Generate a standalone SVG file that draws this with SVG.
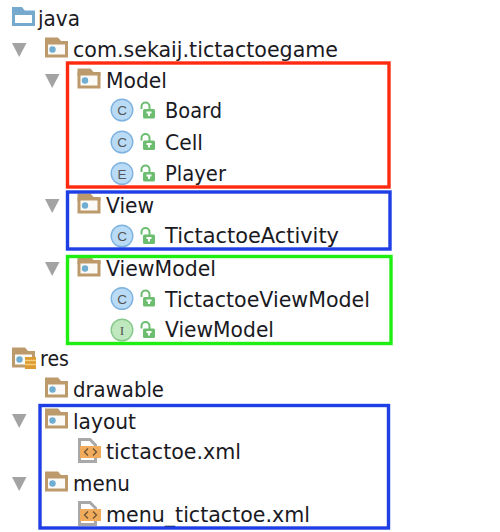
<svg xmlns="http://www.w3.org/2000/svg" width="500" height="532" viewBox="0 0 500 532">
<style>
text{font-family:"DejaVu Sans","Open Sans",sans-serif;font-size:20.6px;fill:#1a1a1f}
.box{fill:none;stroke-width:3.4}
.tri{fill:#a3a3a3}
.c{stroke:#7fb3df;stroke-width:1.4;fill:#b9dbf5}
.g{stroke:#86c98a;stroke-width:1.4;fill:#bfe8bf}
.l{font-size:13.500px;fill:#555;text-anchor:middle;font-family:"Liberation Sans",sans-serif}
.f{fill:#fbfaf6;stroke:#bd9a6c;stroke-width:3}
.ft{fill:#bd9a6c}
.d{fill:#6fadd3}
.file{fill:#fff;stroke:#a8a8a8;stroke-width:3}
.x{fill:#f0ac5c}
.xs{fill:none;stroke:#6b5334;stroke-width:1.300}
.k{fill:#6cbd70}
.ks{fill:none;stroke:#6cbd70;stroke-width:2}
</style>
<defs>
<g id="folder"><path class="ft" d="M0 -12.500H13L16 -9H23V-5H0Z"/><rect class="f" x="1.500" y="-7" width="20" height="13"/><circle class="d" cx="7.500" cy="-0.500" r="3.200"/></g>
<g id="lock"><path class="ks" d="M-1.500 -1V-3.500A4 4 0 0 1 6.500 -3.500V0"/><rect class="k" x="0" y="-1" width="12" height="9.500" rx="1.500"/><rect x="5" y="2" width="2" height="4" fill="#fff"/><rect x="3.500" y="1.500" width="5" height="2" fill="#fff"/></g>
<g id="xml"><path class="file" d="M0.500 -12.500H11L16.500 -7V9.500H0.500Z"/><rect class="x" x="1" y="-6" width="21" height="12"/><path class="xs" d="M9 -3.500L5.500 0L9 3.500M14 -3.500L17.500 0L14 3.500"/></g>
<path id="t" class="tri" d="M0 0H14.500L7.200 14Z"/>
</defs>
<g id="connectors"></g>
<g id="java"><path d="M13.500 12H33.500V24.500H13.500Z" fill="#fff" stroke="#75a9cd" stroke-width="3"/><path d="M12 7H22L25 11H35V15H12Z" fill="#75a9cd"/><text x="38" y="26" textLength="42" lengthAdjust="spacingAndGlyphs">java</text></g>
<g id="pkg"><use href="#t" x="12" y="43"/><use href="#folder" x="45" y="50"/><text x="73" y="57" textLength="265" lengthAdjust="spacingAndGlyphs">com.sekaij.tictactoegame</text></g>
<g id="model"><use href="#t" x="45" y="74"/><use href="#folder" x="77.500" y="81"/><text x="106" y="88" textLength="61" lengthAdjust="spacingAndGlyphs">Model</text></g>
<g id="board"><circle class="c" cx="122" cy="110" r="10.800"/><text class="l" x="122" y="115">C</text><use href="#lock" x="143" y="110"/><text x="165" y="118" textLength="57" lengthAdjust="spacingAndGlyphs">Board</text></g>
<g id="cell"><circle class="c" cx="122" cy="142" r="10.800"/><text class="l" x="122" y="147">C</text><use href="#lock" x="143" y="141.500"/><text x="165" y="150" textLength="38" lengthAdjust="spacingAndGlyphs">Cell</text></g>
<g id="player"><circle class="c" cx="122" cy="173.500" r="10.800"/><text class="l" x="122" y="178.500">E</text><use href="#lock" x="143" y="173"/><text x="165" y="181" textLength="61" lengthAdjust="spacingAndGlyphs">Player</text></g>
<g id="view"><use href="#t" x="45" y="199"/><use href="#folder" x="77.500" y="206"/><text x="106" y="213" textLength="48" lengthAdjust="spacingAndGlyphs">View</text></g>
<g id="activity"><circle class="c" cx="122" cy="236" r="10.800"/><text class="l" x="122" y="241">C</text><use href="#lock" x="143" y="235.500"/><text x="165" y="243" textLength="174" lengthAdjust="spacingAndGlyphs">TictactoeActivity</text></g>
<g id="viewmodel"><use href="#t" x="45" y="262"/><use href="#folder" x="77.500" y="269"/><text x="106" y="275.500" textLength="110" lengthAdjust="spacingAndGlyphs">ViewModel</text></g>
<g id="tvm"><circle class="c" cx="122" cy="298.500" r="10.800"/><text class="l" x="122" y="303.500">C</text><use href="#lock" x="143" y="298"/><text x="165" y="306.500" textLength="205" lengthAdjust="spacingAndGlyphs">TictactoeViewModel</text></g>
<g id="vmi"><circle class="g" cx="122" cy="330" r="10.800"/><text class="l" x="122" y="335" style="font-family:'Liberation Serif',serif">I</text><use href="#lock" x="143" y="329.500"/><text x="165" y="337" textLength="109" lengthAdjust="spacingAndGlyphs">ViewModel</text></g>
<g id="res"><use href="#folder" x="12" y="360"/><rect x="25" y="357" width="11" height="12" fill="#dd9a30"/><path d="M25 360.500H36M25 364.500H36" stroke="#f4cf7a" stroke-width="1.500"/><text x="40" y="366" textLength="29" lengthAdjust="spacingAndGlyphs">res</text></g>
<g id="drawable"><use href="#folder" x="45" y="390"/><text x="73" y="397" textLength="91" lengthAdjust="spacingAndGlyphs">drawable</text></g>
<g id="layout"><use href="#t" x="12" y="414"/><use href="#folder" x="45" y="421"/><text x="73" y="428.500" textLength="63" lengthAdjust="spacingAndGlyphs">layout</text></g>
<g id="tictactoe"><use href="#xml" x="79" y="452"/><text x="106" y="459" textLength="135" lengthAdjust="spacingAndGlyphs">tictactoe.xml</text></g>
<g id="menu"><use href="#t" x="12" y="477"/><use href="#folder" x="45" y="484"/><text x="73" y="491" textLength="57" lengthAdjust="spacingAndGlyphs">menu</text></g>
<g id="menufile"><use href="#xml" x="79" y="515"/><text x="106" y="521.500" textLength="204" lengthAdjust="spacingAndGlyphs">menu_tictactoe.xml</text></g>
<g id="highlights">
<rect class="box" x="67.500" y="63" width="321.500" height="124" stroke="#ff2a10"/>
<rect class="box" x="67.500" y="192" width="322.500" height="57" stroke="#1f3fe6"/>
<rect class="box" x="67.500" y="256.500" width="323.500" height="87" stroke="#1fee12"/>
<rect class="box" x="40" y="405.500" width="348.500" height="122.500" stroke="#1f3fe6"/>
</g>
</svg>
